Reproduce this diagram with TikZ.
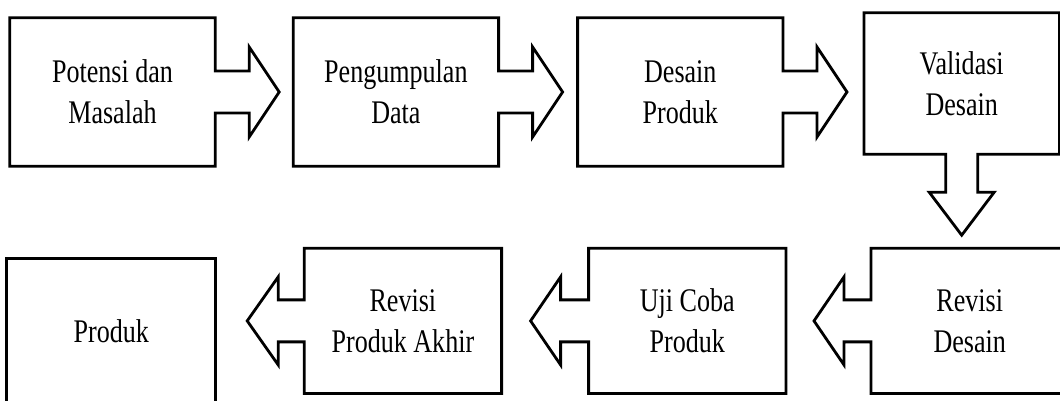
\documentclass[tikz,border=0pt]{standalone}
\usepackage{fontspec}
\newfontfamily\boxfont[FakeStretch=0.79]{Liberation Serif}
\usetikzlibrary{positioning, calc}

\begin{document}
\begin{tikzpicture}[
    x=1pt, y=1pt,
    box/.style={rectangle, minimum width=205pt, minimum height=148pt, inner sep=0pt, align=center, font={\boxfont\fontsize{33}{41}\selectfont}},
    lowbox/.style={box, minimum width=197pt, minimum height=145pt},
    outline/.style={draw, line width=2.8pt, line join=miter}
]
\useasboundingbox (0,0) rectangle (1060,401);

% Nodes
\node[box] (potensi) at (112.5,309) {Potensi dan\\Masalah};
\node[box, right=78pt of potensi] (data) {Pengumpulan\\Data};
\node[box, right=79pt of data] (desain) {Desain\\Produk};
\node[box, minimum width=195pt, minimum height=141pt, right=81pt of desain, yshift=8.5pt] (validasi) {Validasi\\Desain};
\node[lowbox, below=94pt of validasi, xshift=8pt] (revdesain) {Revisi\\Desain};
\node[lowbox, left=85pt of revdesain] (ujicoba) {Uji Coba\\Produk};
\node[lowbox, left=87pt of ujicoba] (revproduk) {Revisi\\Produk Akhir};
\node[box, outline, minimum width=209pt, minimum height=146pt, left=87pt of revproduk, yshift=-10.5pt] (produk) {Produk};

% Arrows
\draw[outline] (potensi.north west) -- (potensi.north east) -- ($(potensi.east)+(0,21)$) -- ++(34,0) -- ++(0,24) -- ++(30,-45) -- ++(-30,-45) -- ++(0,24) -- ++(-34,0) -- (potensi.south east) -- (potensi.south west) -- cycle;
\draw[outline] (data.north west) -- (data.north east) -- ($(data.east)+(0,21)$) -- ++(34,0) -- ++(0,24) -- ++(30,-45) -- ++(-30,-45) -- ++(0,24) -- ++(-34,0) -- (data.south east) -- (data.south west) -- cycle;
\draw[outline] (desain.north west) -- (desain.north east) -- ($(desain.east)+(0,21)$) -- ++(34,0) -- ++(0,24) -- ++(30,-45) -- ++(-30,-45) -- ++(0,24) -- ++(-34,0) -- (desain.south east) -- (desain.south west) -- cycle;
\draw[outline] (validasi.south east) -- (validasi.north east) -- (validasi.north west) -- (validasi.south west) -- ($(validasi.south)+(-16,0)$) -- ++(0,-38) -- ++(-16.5,0) -- ++(32.5,-43) -- ++(32.5,43) -- ++(-16.5,0) -- ++(0,38) -- cycle;
% right side of this box runs off the page
\draw[outline] ($(revdesain.north east)+(20,0)$) -- (revdesain.north west) -- ($(revdesain.west)+(0,21)$) -- ++(-27,0) -- ++(0,23) -- ++(-30,-44) -- ++(30,-44) -- ++(0,23) -- ++(27,0) -- (revdesain.south west) -- ($(revdesain.south east)+(20,0)$);
\draw[outline] (ujicoba.north east) -- (ujicoba.north west) -- ($(ujicoba.west)+(0,21)$) -- ++(-28,0) -- ++(0,23) -- ++(-30,-44) -- ++(30,-44) -- ++(0,23) -- ++(28,0) -- (ujicoba.south west) -- (ujicoba.south east) -- cycle;
\draw[outline] (revproduk.north east) -- (revproduk.north west) -- ($(revproduk.west)+(0,21)$) -- ++(-26,0) -- ++(0,23) -- ++(-31,-44) -- ++(31,-44) -- ++(0,23) -- ++(26,0) -- (revproduk.south west) -- (revproduk.south east) -- cycle;

\end{tikzpicture}
\end{document}
